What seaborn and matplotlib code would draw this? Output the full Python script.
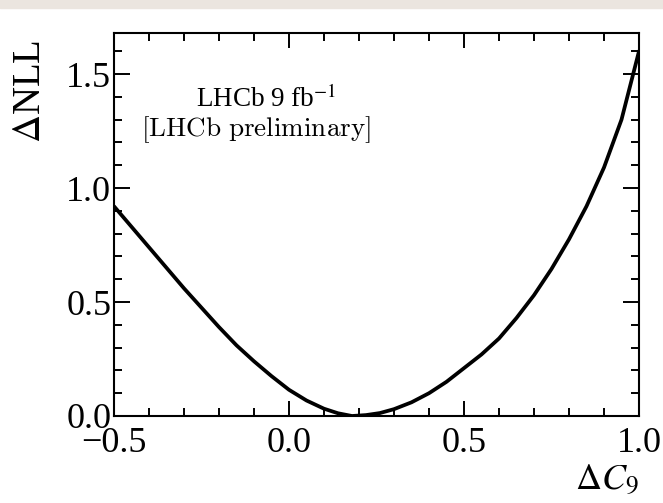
import matplotlib
matplotlib.use("Agg")
import matplotlib.pyplot as plt
from matplotlib.patches import Rectangle
from matplotlib.ticker import MultipleLocator
import seaborn as sns

# Profile-likelihood scan of the Wilson coefficient shift
delta_c9 = [-0.5, -0.45, -0.4, -0.35, -0.3, -0.25, -0.2, -0.15, -0.1, -0.05,
            0.0, 0.05, 0.1, 0.14, 0.18, 0.22, 0.26, 0.3, 0.35, 0.4, 0.45,
            0.5, 0.55, 0.6, 0.65, 0.7, 0.75, 0.8, 0.85, 0.9, 0.95, 1.0]
delta_nll = [0.92, 0.83, 0.74, 0.65, 0.56, 0.475, 0.39, 0.31, 0.24, 0.175,
             0.115, 0.068, 0.032, 0.012, 0.0, 0.004, 0.013, 0.03, 0.06, 0.10, 0.15,
             0.21, 0.27, 0.34, 0.43, 0.53, 0.645, 0.775, 0.92, 1.09, 1.30, 1.60]

x_ticks = [-0.5, 0.0, 0.5, 1.0]
y_ticks = [0.0, 0.5, 1.0, 1.5]

sns.set_theme(style="ticks")
plt.rcParams["font.family"] = ["Liberation Serif", "DejaVu Serif"]
plt.rcParams["mathtext.fontset"] = "stix"

fig = plt.figure(figsize=(6.63, 5.03), dpi=100)
ax = fig.add_axes([114 / 663, 87 / 503, 525 / 663, 383 / 503])

sns.lineplot(x=delta_c9, y=delta_nll, color="black", linewidth=2.7, ax=ax,
             sort=False, estimator=None)

ax.set_xlim(-0.5, 1.0)
ax.set_ylim(0.0, 1.68)
ax.set_xticks(x_ticks)
ax.set_yticks(y_ticks)
ax.set_xticklabels([f"{v:.1f}".replace("-", "\u2212") for v in x_ticks])
ax.set_yticklabels([f"{v:.1f}" for v in y_ticks])
ax.xaxis.set_minor_locator(MultipleLocator(0.1))
ax.yaxis.set_minor_locator(MultipleLocator(0.1))

for side in ["left", "right", "top", "bottom"]:
    ax.spines[side].set_linewidth(1.5)
    ax.spines[side].set_color("black")

ax.tick_params(which="both", direction="in", top=True, right=True,
               width=1.4, color="black", labelcolor="black")
ax.tick_params(axis="x", which="major", length=10.5, labelsize=26, pad=8)
ax.tick_params(axis="y", which="major", length=11.5, labelsize=26, pad=2)
ax.tick_params(which="minor", length=5.5)

ax.set_ylabel(r"$\Delta$NLL", fontsize=28, loc="top", color="black")
ax.yaxis.set_label_coords(-0.124, 0.982)
ax.set_xlabel(r"$\Delta C_9$", fontsize=26, loc="right", color="black")
ax.xaxis.set_label_coords(1.0, -0.122)

ax.text(0.29, 0.828, r"LHCb 9 fb$^{-1}$", transform=ax.transAxes,
        ha="center", va="center", fontsize=19.5, color="black")
ax.text(0.27, 0.748, r"$\mathrm{[LHCb\ preliminary]}$", transform=ax.transAxes,
        ha="center", va="center", fontsize=19.5, color="black", math_fontfamily="cm")

fig.patches.append(Rectangle((0, 1 - 8 / 503), 1, 8 / 503, transform=fig.transFigure,
                             color="#ebe5df", zorder=0))

fig.savefig("out.png", dpi=100, facecolor="white")
